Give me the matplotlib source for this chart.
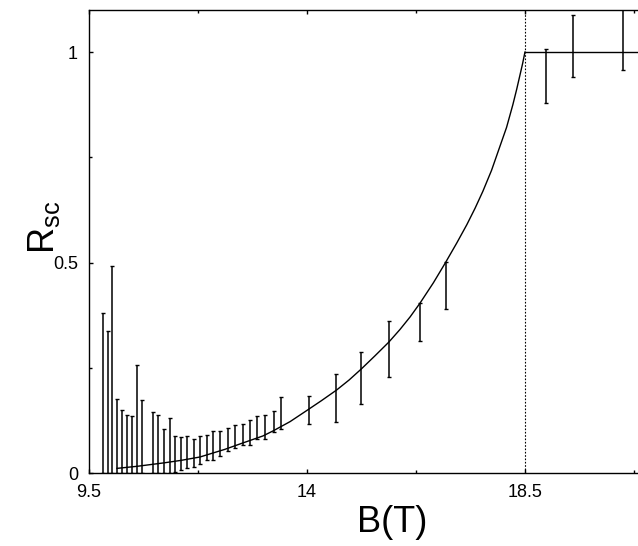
import matplotlib
matplotlib.use('Agg')
import matplotlib.pyplot as plt
import numpy as np

# measured points with error bars (B in T, lower and upper end of each bar)
b_points = [9.795, 9.886, 9.985, 10.084, 10.177, 10.278, 10.384, 10.491, 10.600,
            10.815, 10.920, 11.042, 11.166, 11.282, 11.405, 11.529, 11.668, 11.798,
            11.936, 12.066, 12.211, 12.363, 12.508, 12.669, 12.818, 12.974, 13.140,
            13.309, 13.457, 14.036, 14.593, 15.121, 15.693, 16.339, 16.870,
            18.934, 19.490, 20.520]
r_low = [0.0, 0.0, 0.0, 0.0, 0.0, 0.0, 0.0, 0.0, 0.0,
         0.0, 0.0, 0.0, 0.0, 0.002, 0.007, 0.012, 0.014, 0.021,
         0.031, 0.031, 0.040, 0.052, 0.059, 0.067, 0.067, 0.081, 0.081,
         0.097, 0.105, 0.117, 0.121, 0.164, 0.228, 0.314, 0.390,
         0.880, 0.940, 0.957]
r_high = [0.380, 0.337, 0.492, 0.175, 0.150, 0.137, 0.135, 0.257, 0.173,
          0.145, 0.138, 0.105, 0.131, 0.088, 0.085, 0.088, 0.081, 0.088,
          0.090, 0.100, 0.100, 0.107, 0.114, 0.116, 0.126, 0.135, 0.138,
          0.147, 0.181, 0.183, 0.235, 0.287, 0.361, 0.404, 0.502,
          1.007, 1.088, 1.120]

# theory curve below B_c2
b_curve = [10.078, 10.5, 11.042, 11.4, 11.79, 12.3, 12.617, 13.09, 13.30, 13.65,
           13.99, 14.3, 14.61, 14.87, 15.12, 15.40, 15.69, 15.92, 16.13, 16.33,
           16.61, 16.85, 17.09, 17.30, 17.47, 17.63, 17.81, 17.98, 18.12, 18.25,
           18.33, 18.40, 18.45, 18.5]
r_curve = [0.011, 0.016, 0.024, 0.030, 0.038, 0.056, 0.069, 0.088, 0.100, 0.122,
           0.148, 0.172, 0.197, 0.221, 0.247, 0.278, 0.311, 0.341, 0.371, 0.403,
           0.452, 0.498, 0.546, 0.590, 0.629, 0.669, 0.719, 0.775, 0.821, 0.875,
           0.912, 0.947, 0.972, 1.0]

b_c2 = 18.5
x_ticks = [9.5, 14, 18.5]
x_minor = [11.75, 16.25, 20.75]
y_ticks = [0, 0.5, 1]
y_minor = [0.25, 0.75]

plt.rcParams['font.family'] = ['Liberation Sans', 'DejaVu Sans']
plt.rcParams['mathtext.default'] = 'regular'

fig = plt.figure(figsize=(6.38, 5.46), dpi=100)
ax = fig.add_axes([89 / 638, 73 / 546, 605.5 / 638, 463 / 546])

lo = np.array(r_low)
hi = np.array(r_high)
mid = (lo + hi) / 2
ax.errorbar(b_points, mid, yerr=[mid - lo, hi - mid], fmt='none', ecolor='black',
            elinewidth=1.1, capsize=1.6, capthick=1.0)

ax.plot(b_curve, r_curve, color='black', lw=1.0)
ax.plot([b_c2, 22], [1, 1], color='black', lw=1.0)
ax.axvline(b_c2, color='black', lw=0.8, ls=(0, (1.5, 1.5)))

ax.set_xlim(9.5, 22)
ax.set_ylim(0, 1.1)
ax.set_xticks(x_ticks)
ax.set_xticklabels(['9.5', '14', '18.5'])
ax.set_xticks(x_minor, minor=True)
ax.set_yticks(y_ticks)
ax.set_yticklabels(['0', '0.5', '1'])
ax.set_yticks(y_minor, minor=True)
ax.tick_params(which='both', direction='in', top=True, right=True, labelsize=13, pad=8)
ax.tick_params(which='major', length=3.0, width=1.0)
ax.tick_params(which='minor', length=2.3, width=1.0)
for s in ax.spines.values():
    s.set_linewidth(1.0)

ax.set_xlabel('B(T)', fontsize=26, labelpad=3)
ax.set_ylabel('R$_{sc}$', fontsize=26)
ax.yaxis.set_label_coords(-0.044, 0.53)

fig.savefig('out.png', dpi=100)
